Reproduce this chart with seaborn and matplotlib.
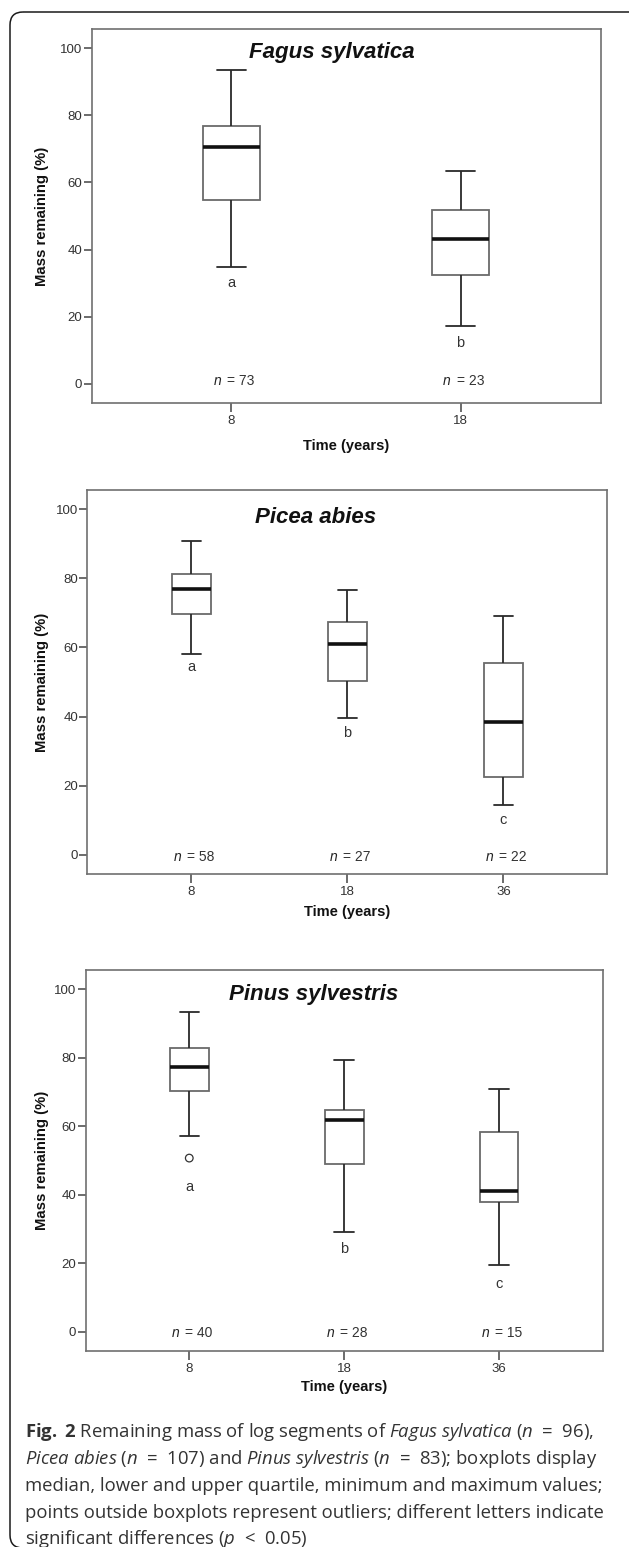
import numpy as np
import pandas as pd
import matplotlib
matplotlib.use("Agg")
import matplotlib.pyplot as plt
from matplotlib.patches import FancyBboxPatch
import seaborn as sns

# ---------------- values ----------------
fagus_time = ["8", "18"]
fagus_min = [34.9, 17.2]
fagus_q1 = [54.8, 32.3]
fagus_median = [70.5, 43.2]
fagus_q3 = [76.7, 51.8]
fagus_max = [93.4, 63.3]
fagus_n = [73, 23]
fagus_letters = ["a", "b"]
fagus_letter_y = [30.0, 12.3]

picea_time = ["8", "18", "36"]
picea_min = [58.2, 39.7, 14.3]
picea_q1 = [69.7, 50.3, 22.5]
picea_median = [76.9, 61.1, 38.3]
picea_q3 = [81.3, 67.4, 55.4]
picea_max = [90.9, 76.6, 69.0]
picea_n = [58, 27, 22]
picea_letters = ["a", "b", "c"]
picea_letter_y = [54.3, 35.1, 10.0]

pinus_time = ["8", "18", "36"]
pinus_min = [57.3, 29.0, 19.4]
pinus_q1 = [70.3, 49.1, 37.8]
pinus_median = [77.2, 61.7, 41.0]
pinus_q3 = [83.0, 64.8, 58.4]
pinus_max = [93.3, 79.5, 70.9]
pinus_n = [40, 28, 15]
pinus_letters = ["a", "b", "c"]
pinus_letter_y = [42.3, 24.0, 13.8]
pinus_outlier_time = ["8"]
pinus_outlier_mass = [50.7]

W, H = 629, 1547
sns.set_style("white")
plt.rcParams["font.family"] = ["Liberation Sans", "DejaVu Sans"]
plt.rcParams["mathtext.fontset"] = "custom"
plt.rcParams["mathtext.rm"] = "Open Sans"
plt.rcParams["mathtext.it"] = "Open Sans:italic"
plt.rcParams["mathtext.bf"] = "Open Sans:bold"

fig = plt.figure(figsize=(W / 100, H / 100), dpi=100)

# background axes in pixel units for the frame and caption
bg = fig.add_axes([0, 0, 1, 1], zorder=0)
bg.set_xlim(0, W)
bg.set_ylim(H, 0)
bg.axis("off")
bg.add_patch(FancyBboxPatch((10, 12), 660, 1536, boxstyle="round,pad=0,rounding_size=13",
                            fill=False, ec="#1a1a1a", lw=1.1))


def px_axes(left, top, right, bottom):
    return fig.add_axes([left / W, 1 - bottom / H, (right - left) / W, (bottom - top) / H], zorder=1)


def five_num(times, mins, q1s, meds, q3s, maxs):
    rows = []
    for t, a, b, c, d, e in zip(times, mins, q1s, meds, q3s, maxs):
        for v in (a, b, c, d, e):
            rows.append({"time": t, "mass": v})
    return pd.DataFrame(rows)


def draw_panel(ax, df, times, ns, letters, letter_y, title, title_pos, xlim, ylab_x, xlab_y, n_y):
    sns.boxplot(data=df, x="time", y="mass", order=times, width=0.25, whis=(0, 100),
                showfliers=False, color="white", linecolor="#6a6a6a", linewidth=1.3,
                saturation=1, ax=ax,
                medianprops=dict(color="#111111", linewidth=2.6),
                whiskerprops=dict(color="#2a2a2a", linewidth=1.3),
                capprops=dict(color="#2a2a2a", linewidth=1.3))
    for i, t in enumerate(times):
        ax.text(i, letter_y[i], letters[i], ha="center", va="center", fontsize=10.5, color="#333333")
        ax.annotate("n", (i, n_y), xytext=(-7.2, 0), textcoords="offset points",
                    ha="right", va="center", fontsize=10, style="italic", color="#222222")
        ax.annotate(f"= {ns[i]}", (i, n_y), xytext=(-2.9, 0), textcoords="offset points",
                    ha="left", va="center", fontsize=10, color="#333333")
    ax.text(title_pos[0], title_pos[1], title, transform=ax.transAxes, ha="center", va="center",
            fontsize=16, fontweight="bold", style="italic", color="#111111")
    ax.set_xlim(*xlim)
    ax.set_ylim(-5.7, 105.6)
    ax.set_yticks([0, 20, 40, 60, 80, 100])
    ax.set_ylabel("Mass remaining (%)", fontsize=10.7, fontweight="bold", color="#111111")
    ax.yaxis.label.set_va("center")
    ax.yaxis.set_label_coords(ylab_x, 0.5)
    ax.set_xlabel("Time (years)", fontsize=10.5, fontweight="bold", color="#111111")
    ax.xaxis.label.set_va("center")
    ax.xaxis.set_label_coords(0.5, xlab_y)
    ax.tick_params(axis="y", direction="out", length=6, width=1.1, color="#444444",
                   pad=0.8, labelsize=9.5, labelcolor="#333333", left=True)
    ax.tick_params(axis="x", direction="out", length=6.5, width=1.1, color="#444444",
                   pad=2, labelsize=9.5, labelcolor="#333333", bottom=True)
    for s in ax.spines.values():
        s.set_color("#707070")
        s.set_linewidth(1.2)
        s.set_visible(True)


# Fagus sylvatica
ax1 = px_axes(91.5, 29.3, 600.5, 403)
draw_panel(ax1, five_num(fagus_time, fagus_min, fagus_q1, fagus_median, fagus_q3, fagus_max),
           fagus_time, fagus_n, fagus_letters, fagus_letter_y, "Fagus sylvatica", (0.473, 0.937),
           (-0.611, 1.611), -0.097, -0.115, 1.0)

# Picea abies
ax2 = px_axes(87.4, 490, 606.5, 874.3)
draw_panel(ax2, five_num(picea_time, picea_min, picea_q1, picea_median, picea_q3, picea_max),
           picea_time, picea_n, picea_letters, picea_letter_y, "Picea abies", (0.440, 0.928),
           (-0.666, 2.66), -0.088, -0.097, -0.7)

# Pinus sylvestris
ax3 = px_axes(85.8, 970.3, 602.5, 1351)
draw_panel(ax3, five_num(pinus_time, pinus_min, pinus_q1, pinus_median, pinus_q3, pinus_max),
           pinus_time, pinus_n, pinus_letters, pinus_letter_y, "Pinus sylvestris", (0.441, 0.937),
           (-0.668, 2.668), -0.085, -0.095, -0.5)
sns.stripplot(x=pinus_outlier_time, y=pinus_outlier_mass, order=pinus_time, jitter=False, ax=ax3,
              marker="o", size=5.5, color="#333333", facecolor="none", edgecolor="#333333",
              linewidth=0.9, zorder=3)
ax3.set_xlim(-0.668, 2.668)
ax3.set_xlabel("Time (years)", fontsize=10.5, fontweight="bold", color="#111111")
ax3.set_ylabel("Mass remaining (%)", fontsize=10.7, fontweight="bold", color="#111111")

# caption
caption = [
    r"$\mathbf{Fig.}$ $\mathbf{2}$ Remaining mass of log segments of $\mathit{Fagus}$ $\mathit{sylvatica}$ ($\mathit{n}$  =  %d)," % sum(fagus_n),
    r"$\mathit{Picea}$ $\mathit{abies}$ ($\mathit{n}$  =  %d) and $\mathit{Pinus}$ $\mathit{sylvestris}$ ($\mathit{n}$  =  %d); boxplots display" % (sum(picea_n), sum(pinus_n)),
    "median, lower and upper quartile, minimum and maximum values;",
    "points outside boxplots represent outliers; different letters indicate",
    r"significant differences ($\mathit{p}$  <  0.05)",
]
baselines = [1437, 1464, 1491, 1518, 1544]
for line, yb in zip(caption, baselines):
    bg.text(25, yb, line, ha="left", va="baseline", fontsize=13.3, color="#333333",
            family=["Open Sans", "DejaVu Sans"])

fig.savefig("out.png", dpi=100)
